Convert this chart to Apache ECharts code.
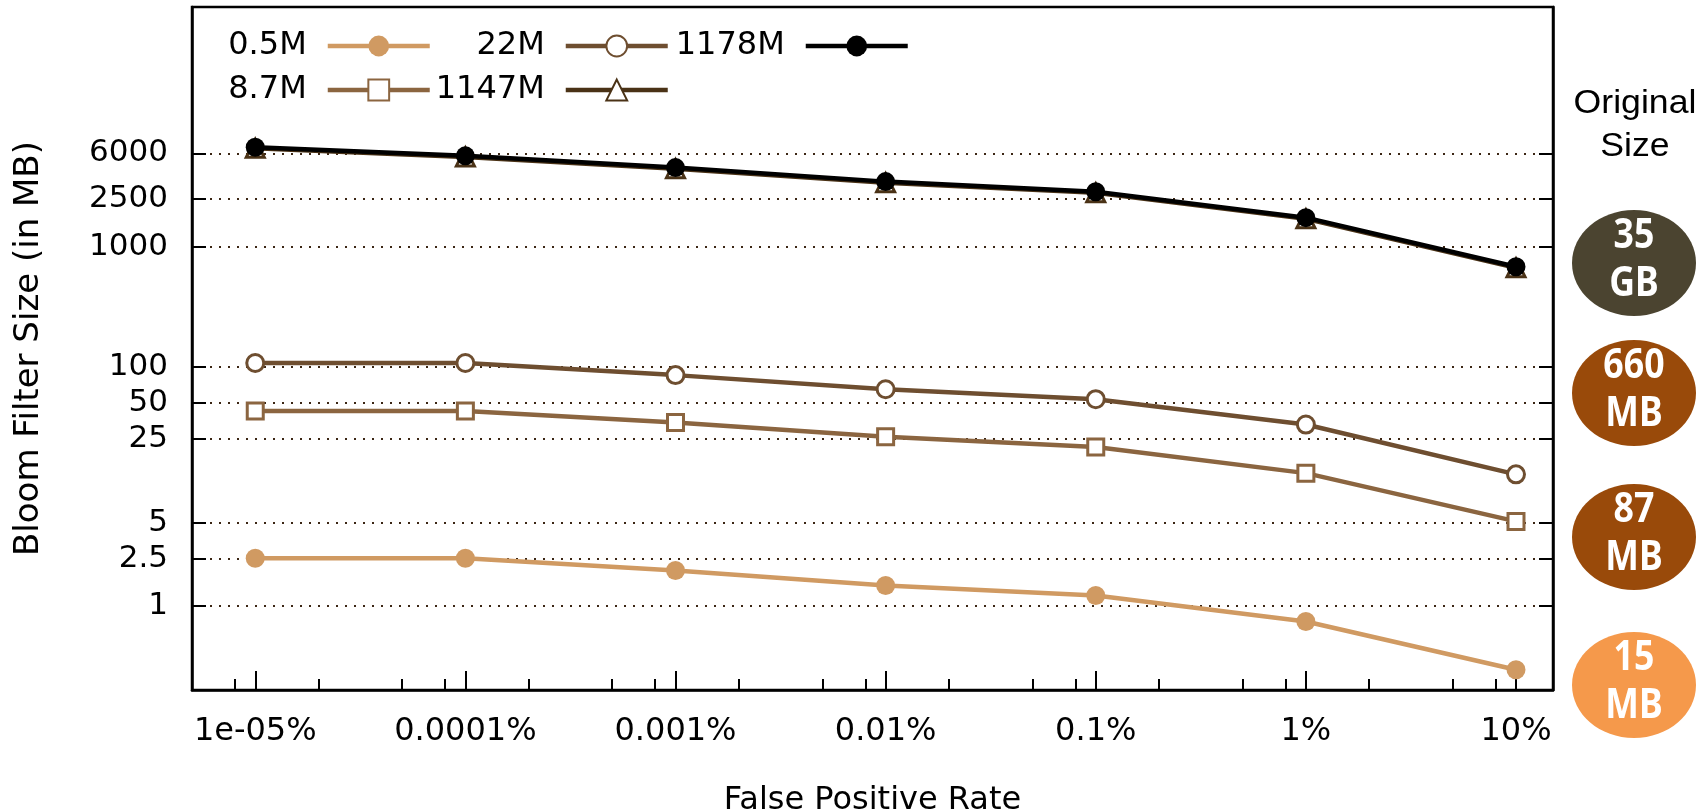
<!DOCTYPE html>
<html><head><meta charset="utf-8">
<script src="https://cdn.jsdelivr.net/npm/echarts@6/dist/echarts.min.js"></script>
<style>html,body{margin:0;padding:0;background:#fff}#c{width:1707px;height:812px}</style>
</head><body><div id="c"></div><script>
// ---- data ----
const fprPercent = [1e-5, 1e-4, 1e-3, 1e-2, 1e-1, 1, 10];
const xTickLabels = ['1e-05%', '0.0001%', '0.001%', '0.01%', '0.1%', '1%', '10%'];
const xMinorTicks = [8e-6, 2e-5, 5e-5, 8e-5, 2e-4, 5e-4, 8e-4, 2e-3, 5e-3, 8e-3, 2e-2, 5e-2, 8e-2, 0.2, 0.5, 0.8, 2, 5, 8];
const yTicks = [1, 2.5, 5, 25, 50, 100, 1000, 2500, 6000];
const seriesNames = ['0.5M', '8.7M', '22M', '1147M', '1178M'];
const size05M = [2.51, 2.51, 1.99, 1.49, 1.23, 0.746, 0.295];
const size87M = [42.6, 42.6, 34.1, 25.9, 21.3, 12.9, 5.1];
const size22M = [107, 107, 84.8, 64.7, 53.4, 32.8, 12.6];
const size1147M = [6620, 5610, 4480, 3420, 2820, 1710, 667];
const size1178M = [6761, 5728, 4571, 3491, 2878, 1747, 681];
const originalSizeLabels = ['35\nGB', '660\nMB', '87\nMB', '15\nMB'];

// ---- styles ----
const colors = ['#d09a62', '#8b6540', '#6e4e30', '#4a3216', '#000000'];
const symbols = ['circle', 'rect', 'circle', 'triangle', 'circle'];
const filled = [true, false, false, false, true];
const symSizes = [19, 16, 17, 18, 19];
const allValues = [size05M, size87M, size22M, size1147M, size1178M];
const badgeColors = ['#4b4430', '#994a0a', '#994a0a', '#f5994b'];
const badgeCenters = [263, 393, 537, 685];

const chart = echarts.init(document.getElementById('c'), null, {renderer: 'canvas'});

const series = seriesNames.map((name, i) => ({
  name, type: 'line',
  data: fprPercent.map((x, j) => [x, allValues[i][j]]),
  symbol: symbols[i], symbolSize: symSizes[i],
  lineStyle: {color: colors[i], width: 4.5},
  itemStyle: filled[i] ? {color: colors[i]} : {color: '#fff', borderColor: colors[i], borderWidth: 3},
  z: 2 + i
}));

function legendFor(name, right, top) {
  return {
    data: [name], right, top, orient: 'horizontal', align: 'right',
    itemWidth: 102, itemHeight: 26, itemGap: 0, padding: 0, selectedMode: false,
    lineStyle: {width: 4.5},
    textStyle: {fontFamily: 'DejaVu Sans', fontSize: 32, color: '#000', padding: [0, 16, 0, 0]}
  };
}

function xLabel(v) {
  let best = 0, bd = Infinity;
  fprPercent.forEach((t, i) => { const d = Math.abs(Math.log10(v) - Math.log10(t)); if (d < bd) { bd = d; best = i; } });
  return xTickLabels[best];
}

const gridLine = {show: true, lineStyle: {color: '#3b2614', width: 2, type: [2, 7]}};

const graphic = [
  {type: 'text', x: 1635, y: 104, scaleX: 1.08, style: {text: 'Original', fontFamily: 'Liberation Sans', fontSize: 33, fill: '#000', align: 'center', verticalAlign: 'middle'}},
  {type: 'text', x: 1635, y: 147, scaleX: 1.08, style: {text: 'Size', fontFamily: 'Liberation Sans', fontSize: 33, fill: '#000', align: 'center', verticalAlign: 'middle'}}
];
originalSizeLabels.forEach((t, i) => {
  graphic.push({type: 'ellipse', shape: {cx: 1634, cy: badgeCenters[i], rx: 62, ry: 53}, style: {fill: badgeColors[i]}});
  graphic.push({type: 'text', x: 1634, y: badgeCenters[i] - 3, scaleX: 0.85, style: {text: t, fontFamily: 'Noto Sans', fontWeight: 'bold', fontSize: 42, lineHeight: 48, fill: '#fff', align: 'center', verticalAlign: 'middle'}});
});

chart.setOption({
  animation: false,
  backgroundColor: '#fff',
  grid: {left: 192, right: 154, top: 7, bottom: 122, show: true, borderColor: '#000', borderWidth: 2.5, backgroundColor: 'transparent', outerBoundsMode: 'none'},
  legend: [
    legendFor('0.5M', 1275, 30), legendFor('8.7M', 1275, 74),
    legendFor('22M', 1037, 30), legendFor('1147M', 1037, 74),
    legendFor('1178M', 797, 30)
  ],
  xAxis: [
    {type: 'log', logBase: 10, min: 5e-6, max: 15, position: 'bottom',
     name: 'False Positive Rate', nameLocation: 'middle', nameGap: 95,
     nameTextStyle: {fontFamily: 'DejaVu Sans', fontSize: 32, color: '#000'},
     axisLine: {show: true, lineStyle: {color: '#000', width: 2.5}},
     axisTick: {show: true, inside: true, length: 19, customValues: fprPercent, lineStyle: {color: '#000', width: 2}},
     axisLabel: {show: true, customValues: fprPercent, formatter: xLabel, margin: 26, fontFamily: 'DejaVu Sans', fontSize: 32, color: '#000'},
     splitLine: {show: false}, minorTick: {show: false}},
    {type: 'log', logBase: 10, min: 5e-6, max: 15, position: 'bottom',
     axisLine: {show: false},
     axisTick: {show: true, inside: true, length: 11, customValues: xMinorTicks, lineStyle: {color: '#000', width: 2}},
     axisLabel: {show: false}, splitLine: {show: false}}
  ],
  yAxis: [
    {type: 'log', logBase: 10, min: 0.2, max: 100000, position: 'left',
     name: 'Bloom Filter Size (in MB)', nameLocation: 'middle', nameGap: 146, nameRotate: 90,
     nameTextStyle: {fontFamily: 'DejaVu Sans', fontSize: 34, color: '#000'},
     axisLine: {show: true, lineStyle: {color: '#000', width: 2.5}},
     axisTick: {show: true, inside: true, length: 14, customValues: yTicks, lineStyle: {color: '#000', width: 2}},
     axisLabel: {show: true, customValues: yTicks, formatter: v => String(+v.toPrecision(4)), margin: 24, fontFamily: 'DejaVu Sans', fontSize: 31, color: '#000'},
     splitLine: gridLine},
    {type: 'log', logBase: 10, min: 0.2, max: 100000, position: 'right',
     axisLine: {show: true, lineStyle: {color: '#000', width: 2.5}},
     axisTick: {show: true, inside: true, length: 14, customValues: yTicks, lineStyle: {color: '#000', width: 2}},
     axisLabel: {show: false}, splitLine: {show: false}}
  ],
  series,
  graphic
});
</script></body></html>
